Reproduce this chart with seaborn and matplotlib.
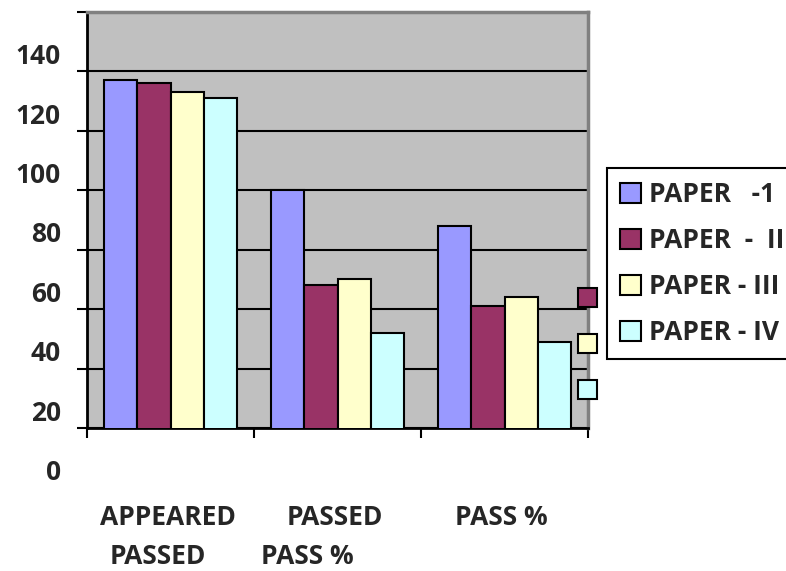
import seaborn as sns
import matplotlib.pyplot as plt
import pandas as pd
from matplotlib.patches import Rectangle

categories = ["APPEARED", "PASSED", "PASS %"]
papers = ["PAPER   -1", "PAPER  -  II", "PAPER - III", "PAPER - IV"]
paper_1 = [137, 100, 88]
paper_2 = [136, 68, 61]
paper_3 = [133, 70, 64]
paper_4 = [131, 52, 49]
tick_values = [0, 20, 40, 60, 80, 100, 120, 140]
extra_labels = ["PASSED", "PASS %"]

colors = ["#9999FF", "#993366", "#FFFFCC", "#CCFFFF"]
FS = 19


def main():
    rows = []
    for name, vals in zip(papers, [paper_1, paper_2, paper_3, paper_4]):
        for cat, v in zip(categories, vals):
            rows.append({"category": cat, "paper": name, "value": v})
    df = pd.DataFrame(rows)

    sns.set_style("white")
    plt.rcParams['font.family'] = ['Open Sans', 'DejaVu Sans']
    plt.rcParams['font.weight'] = 'bold'

    fig = plt.figure(figsize=(7.86, 5.71), dpi=100)
    ax = fig.add_axes([87 / 786, 1 - 428 / 571, 501 / 786, 416 / 571])
    ax.set_facecolor("#C0C0C0")

    sns.barplot(data=df, x="category", y="value", hue="paper",
                palette=colors, width=0.8, edgecolor="black",
                linewidth=1.5, saturation=1, ax=ax, zorder=3)

    ax.set_xlim(-0.5, 2.5)
    ax.set_ylim(20, 160)
    ax.set_yticks(range(20, 161, 20))
    ax.set_yticklabels([])
    ax.yaxis.grid(True, color="black", linewidth=1.5, zorder=1)
    ax.set_axisbelow(True)
    ax.tick_params(axis="y", direction="out", length=7, width=1.5,
                   color="black", left=True)
    ax.set_xticks([-0.5, 0.5, 1.5, 2.5])
    ax.set_xticklabels([])
    ax.tick_params(axis="x", direction="out", length=7, width=1.5,
                   color="black", bottom=True)
    ax.set_xlabel("")
    ax.set_ylabel("")

    for side in ["left", "bottom"]:
        ax.spines[side].set_color("black")
        ax.spines[side].set_linewidth(2)
    for side in ["top", "right"]:
        ax.spines[side].set_color("#808080")
        ax.spines[side].set_linewidth(2.5)

    # tick labels drawn slightly above their lines, as in the original
    ytr = ax.get_yaxis_transform()
    for v in tick_values:
        ax.text(-0.052, v + 5, str(v), transform=ytr, ha="right",
                va="center", fontsize=FS, fontweight="bold", clip_on=False)

    xtr = ax.get_xaxis_transform()
    for i, c in enumerate(categories):
        ax.text(i - 0.018, -0.216, c, transform=xtr, ha="center",
                va="center", fontsize=FS, fontweight="bold")
    for i, c in enumerate(extra_labels):
        ax.text(i - 0.075 - 0.105 * i, -0.31, c, transform=xtr,
                ha="center", va="center", fontsize=FS, fontweight="bold")

    handles, labels = ax.get_legend_handles_labels()
    ax.legend(handles, labels, loc="upper left", mode="expand",
              bbox_to_anchor=(607 / 786, 1 - 168 / 571, 200 / 786, 0),
              bbox_transform=fig.transFigure, frameon=True,
              fancybox=False, edgecolor="black", framealpha=1,
              prop={"size": FS, "weight": "bold"}, handlelength=0.78,
              handleheight=0.78, handletextpad=0.32, labelspacing=0.72,
              borderpad=0.5, borderaxespad=0)
    ax.get_legend().get_frame().set_linewidth(1.5)

    # stray legend keys next to the plot area
    for k, col in enumerate(colors[1:]):
        y0 = 1 - (307 + 46 * k) / 571
        fig.patches.append(Rectangle((578 / 786, y0), 19 / 786, 19 / 571,
                                     transform=fig.transFigure,
                                     facecolor=col, edgecolor="black",
                                     linewidth=1.5, zorder=5))

    fig.savefig("out.png", dpi=100)


if __name__ == "__main__":
    main()
